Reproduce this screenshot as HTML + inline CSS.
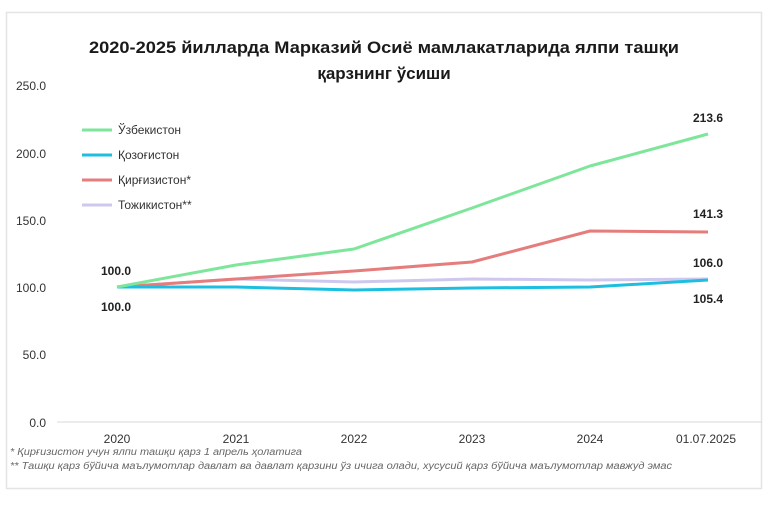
<!DOCTYPE html>
<html><head><meta charset="utf-8"><style>
body{margin:0;background:#fff;}
svg text{font-family:"Liberation Sans",sans-serif;}
</style></head><body>
<svg width="768" height="512" viewBox="0 0 768 512" xmlns="http://www.w3.org/2000/svg">
<rect x="0" y="0" width="768" height="512" fill="#fff"/>
<rect x="6.5" y="12.5" width="755" height="476" fill="#fff" stroke="#e4e4e4" stroke-width="1.5"/>
<text x="384" y="53" text-anchor="middle" font-size="17" font-weight="bold" fill="#1a1a1a" textLength="590" lengthAdjust="spacingAndGlyphs">2020-2025 йилларда Марказий Осиё мамлакатларида ялпи ташқи</text>
<text x="384" y="79" text-anchor="middle" font-size="17" font-weight="bold" fill="#1a1a1a">қарзнинг ўсиши</text>
<g font-size="12" fill="#333" text-anchor="end">
<text x="46" y="90">250.0</text>
<text x="46" y="158">200.0</text>
<text x="46" y="225">150.0</text>
<text x="46" y="292">100.0</text>
<text x="46" y="359">50.0</text>
<text x="46" y="427">0.0</text>
</g>
<line x1="57" y1="422" x2="762" y2="422" stroke="#d9d9d9" stroke-width="1"/>
<g font-size="12" fill="#333" text-anchor="middle">
<text x="117" y="443">2020</text>
<text x="236" y="443">2021</text>
<text x="354" y="443">2022</text>
<text x="472" y="443">2023</text>
<text x="590" y="443">2024</text>
<text x="706" y="443">01.07.2025</text>
</g>
<g fill="none" stroke-width="3" stroke-linejoin="round">
<polyline stroke="#cfc8ee" points="117,287 236,279 354,282 472,279 590,280 708,279"/>
<polyline stroke="#e57d7d" points="117,287 236,279 354,271 472,262 590,231 708,232"/>
<polyline stroke="#1cbfe0" points="117,287 236,287 354,290 472,288 590,287 708,280"/>
<polyline stroke="#7ee69a" points="117,287 236,265 354,249 472,208 590,166 708,134"/>
</g>
<g font-size="12" font-weight="bold" fill="#222" text-anchor="middle">
<text x="116" y="275">100.0</text>
<text x="116" y="311">100.0</text>
<text x="708" y="122">213.6</text>
<text x="708" y="218">141.3</text>
<text x="708" y="267">106.0</text>
<text x="708" y="303">105.4</text>
</g>
<g font-size="12" fill="#333">
<line x1="82" y1="130" x2="112" y2="130" stroke="#7ee69a" stroke-width="3"/><text x="118" y="134">Ўзбекистон</text>
<line x1="82" y1="155" x2="112" y2="155" stroke="#1cbfe0" stroke-width="3"/><text x="118" y="159">Қозоғистон</text>
<line x1="82" y1="180" x2="112" y2="180" stroke="#e57d7d" stroke-width="3"/><text x="118" y="184">Қирғизистон*</text>
<line x1="82" y1="205" x2="112" y2="205" stroke="#cfc8ee" stroke-width="3"/><text x="118" y="209">Тожикистон**</text>
</g>
<g font-size="10" font-style="italic" fill="#666">
<text x="10" y="455" textLength="292" lengthAdjust="spacingAndGlyphs">* Қирғизистон учун ялпи ташқи қарз 1 апрель ҳолатига</text>
<text x="10" y="469" textLength="662" lengthAdjust="spacingAndGlyphs">** Ташқи қарз бўйича маълумотлар давлат ва давлат қарзини ўз ичига олади, хусусий қарз бўйича   маълумотлар мавжуд эмас</text>
</g>
</svg>
</body></html>
